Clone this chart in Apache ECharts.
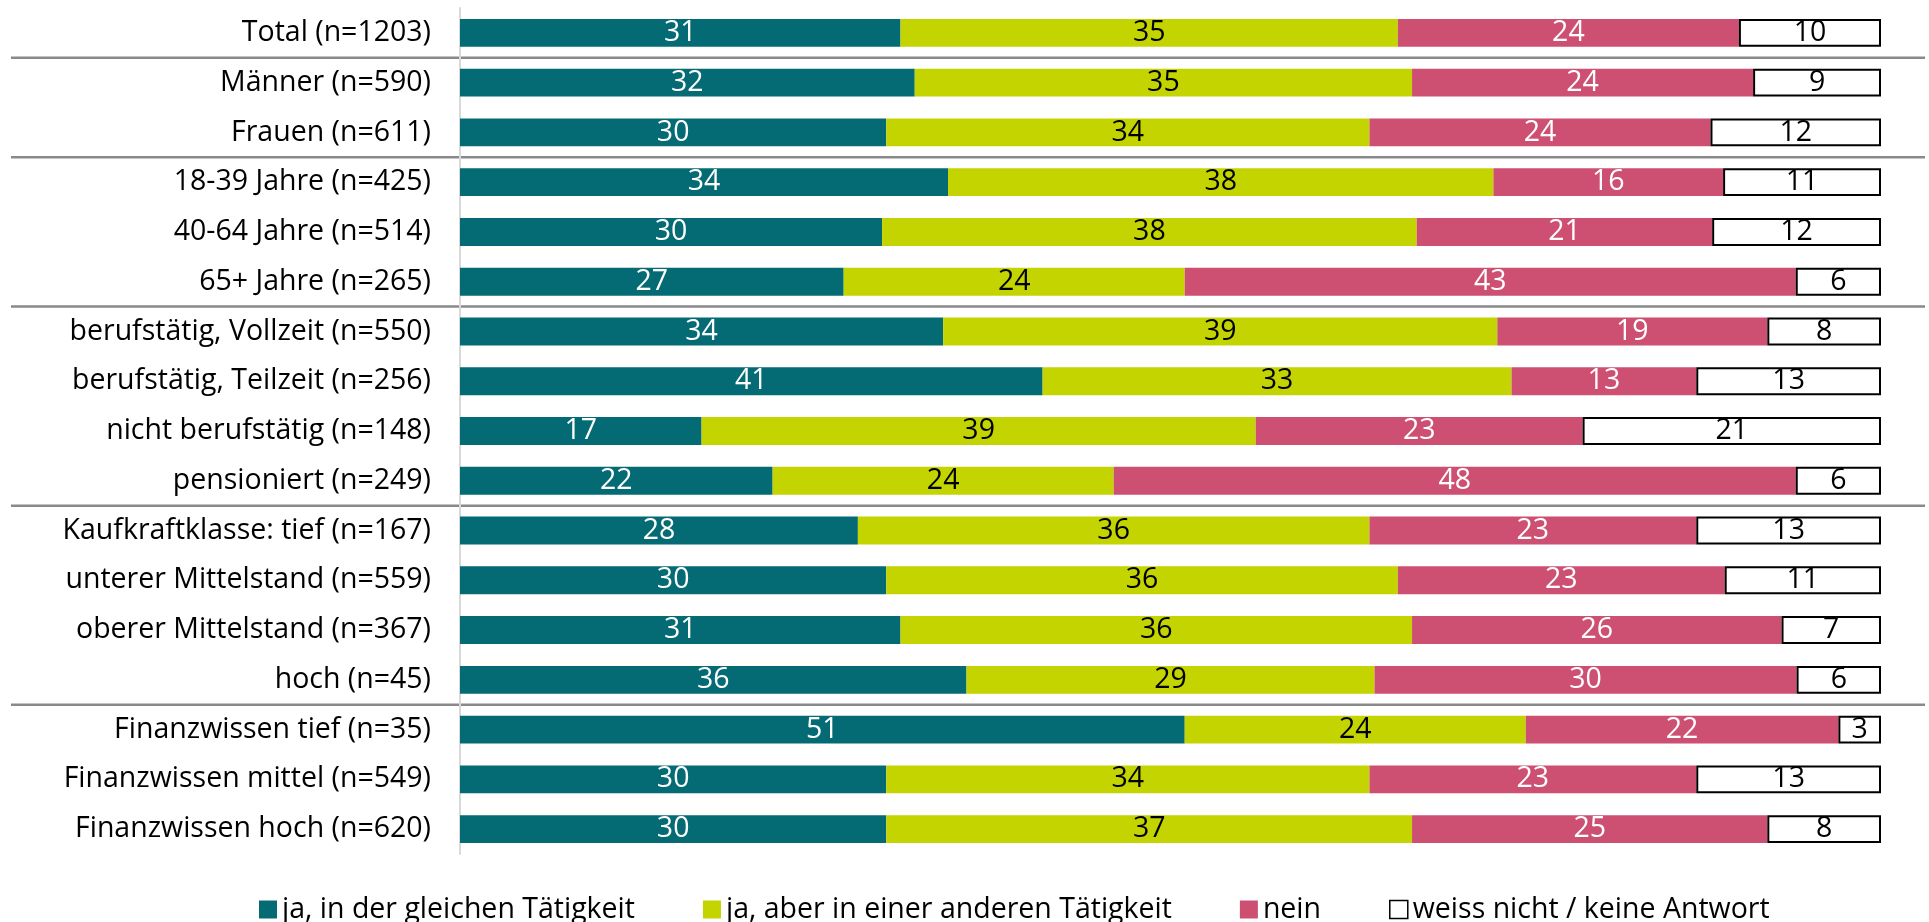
<!DOCTYPE html>
<html><head><meta charset="utf-8">
<script src="https://cdn.jsdelivr.net/npm/echarts@6/dist/echarts.min.js"></script>
<style>html,body{margin:0;padding:0;background:#fff}#c{width:1929px;height:922px}</style>
</head><body><div id="c"></div>
<script>
const categories = [
  'Total (n=1203)', 'Männer (n=590)', 'Frauen (n=611)',
  '18-39 Jahre (n=425)', '40-64 Jahre (n=514)', '65+ Jahre (n=265)',
  'berufstätig, Vollzeit (n=550)', 'berufstätig, Teilzeit (n=256)', 'nicht berufstätig (n=148)', 'pensioniert (n=249)',
  'Kaufkraftklasse: tief (n=167)', 'unterer Mittelstand (n=559)', 'oberer Mittelstand (n=367)', 'hoch (n=45)',
  'Finanzwissen tief (n=35)', 'Finanzwissen mittel (n=549)', 'Finanzwissen hoch (n=620)'
];
const jaGleich   = [31, 32, 30, 34, 30, 27, 34, 41, 17, 22, 28, 30, 31, 36, 51, 30, 30];
const jaAnders   = [35, 35, 34, 38, 38, 24, 39, 33, 39, 24, 36, 36, 36, 29, 24, 34, 37];
const nein       = [24, 24, 24, 16, 21, 43, 19, 13, 23, 48, 23, 23, 26, 30, 22, 23, 25];
const weissNicht = [10,  9, 12, 11, 12,  6,  8, 13, 21,  6, 13, 11,  7,  6,  3, 13,  8];
const seriesNames = ['ja, in der gleichen Tätigkeit', 'ja, aber in einer anderen Tätigkeit', 'nein', 'weiss nicht / keine Antwort'];
const separatorsAfter = [0, 2, 5, 9, 13];

const raw = [jaGleich, jaAnders, nein, weissNicht];
const totals = categories.map((_, i) => raw.reduce((s, a) => s + a[i], 0));
const FONT = 'Open Sans';
const FS = 28.5;
const styles = [
  {color: '#046a74', label: '#ffffff'},
  {color: '#c3d400', label: '#000000'},
  {color: '#cd4f71', label: '#ffffff'},
  {color: '#ffffff', label: '#000000', border: '#000000'}
];

const chart = echarts.init(document.getElementById('c'), null, {renderer: 'canvas'});
const series = raw.map((arr, k) => ({
  name: seriesNames[k],
  type: 'bar',
  stack: 'total',
  barWidth: '56%',
  data: arr.map((v, i) => v / totals[i] * 100),
  itemStyle: styles[k].border
    ? {color: styles[k].color, borderColor: styles[k].border, borderWidth: 2}
    : {color: styles[k].color},
  label: {
    show: true, position: 'inside', color: styles[k].label,
    fontFamily: FONT, fontSize: FS,
    formatter: p => String(arr[p.dataIndex])
  },
  emphasis: {disabled: true}
}));

chart.setOption({
  animation: false,
  textStyle: {fontFamily: FONT},
  grid: {left: 460, right: 48, top: 8, bottom: 68, containLabel: false},
  xAxis: {type: 'value', min: 0, max: 100, show: false},
  yAxis: {
    type: 'category', data: categories, inverse: true,
    axisLine: {show: true, lineStyle: {color: '#d9d9d9', width: 2}},
    axisTick: {show: false},
    axisLabel: {color: '#000', fontFamily: FONT, fontSize: FS, margin: 29}
  },
  legend: {
    left: 254, top: 890,
    itemWidth: 18, itemHeight: 18, itemGap: 68,
    icon: 'rect',
    textStyle: {color: '#000', fontFamily: FONT, fontSize: FS},
    data: seriesNames.map((n, k) => ({
      name: n,
      itemStyle: styles[k].border ? {color: '#fff', borderColor: '#000', borderWidth: 1.5} : {color: styles[k].color}
    }))
  },
  series: series
});

const ys = categories.map(c => chart.convertToPixel({yAxisIndex: 0}, c));
chart.setOption({
  graphic: separatorsAfter.map(i => ({
    type: 'line', silent: true,
    shape: {x1: 11, y1: (ys[i] + ys[i + 1]) / 2, x2: 1925, y2: (ys[i] + ys[i + 1]) / 2},
    style: {stroke: '#898989', lineWidth: 2.5}
  }))
});
</script>
</body></html>
